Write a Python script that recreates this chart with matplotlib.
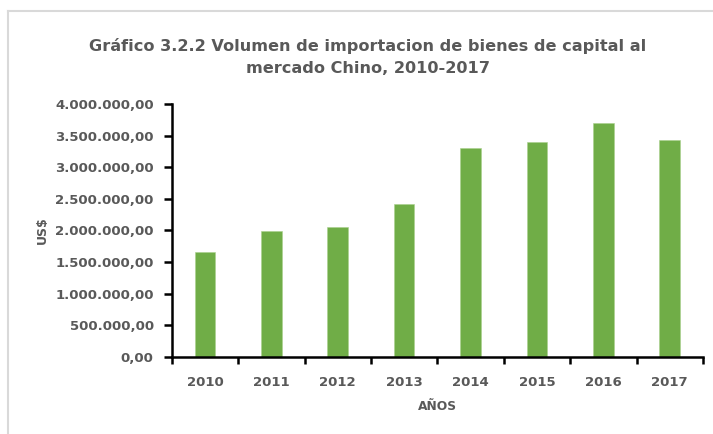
import matplotlib
matplotlib.use("Agg")
import matplotlib.pyplot as plt
from matplotlib.lines import Line2D
from matplotlib.ticker import FuncFormatter, FixedLocator

years = ["2010", "2011", "2012", "2013", "2014", "2015", "2016", "2017"]
values = [1658000, 1990000, 2047000, 2425000, 3310000, 3400000, 3705000, 3430000]
yticks = [0, 500000, 1000000, 1500000, 2000000, 2500000, 3000000, 3500000, 4000000]

title = "Gráfico 3.2.2 Volumen de importacion de bienes de capital al\nmercado Chino, 2010-2017"
xlabel = "AÑOS"
ylabel = "US$"

GRAY = "#595959"
GREEN = "#70AD47"
FONT = "DejaVu Sans"

W, H = 713, 434
fig = plt.figure(figsize=(W / 100, H / 100), dpi=100)
fig.patch.set_facecolor("white")

# chart frame (partial border as in reference)
fig.add_artist(Line2D([8 / W, 1.0], [1 - 10.5 / H, 1 - 10.5 / H], transform=fig.transFigure,
                      color="#d9d9d9", lw=1.5))
fig.add_artist(Line2D([8 / W, 8 / W], [1 - 10.5 / H, 0], transform=fig.transFigure,
                      color="#d9d9d9", lw=1.5))

left, right, top, bottom = 171.7, 703, 104, 356.7
ax = fig.add_axes([left / W, 1 - bottom / H, (right - left) / W, (bottom - top) / H])

x = list(range(len(years)))
ax.bar(x, values, width=0.31, color=GREEN, edgecolor="#a9d18e", linewidth=0.4, zorder=2)

ax.set_xlim(-0.5, len(years) - 0.5)
ax.set_ylim(0, 4000000)

for s in ["top", "right"]:
    ax.spines[s].set_visible(False)
for s in ["left", "bottom"]:
    ax.spines[s].set_color("black")
    ax.spines[s].set_linewidth(1.8)

def fmt(v, pos):
    s = f"{v:,.2f}"
    return s.replace(",", "X").replace(".", ",").replace("X", ".")

ax.yaxis.set_major_locator(FixedLocator(yticks))
ax.yaxis.set_major_formatter(FuncFormatter(fmt))
ax.tick_params(axis="y", direction="out", length=6, width=1.8, color="black",
               labelsize=9.5, labelcolor=GRAY, pad=7)

ax.set_xticks(x)
ax.set_xticklabels(years)
ax.set_xticks([i - 0.5 for i in range(len(years) + 1)], minor=True)
ax.tick_params(axis="x", which="major", length=0, labelsize=9.5, labelcolor=GRAY, pad=14)
ax.tick_params(axis="x", which="minor", direction="out", length=5, width=1.8, color="black")

for lab in ax.get_xticklabels() + ax.get_yticklabels():
    lab.set_fontfamily(FONT)
    lab.set_fontweight("bold")

fig.text(368 / W, 1 - 57 / H, title, ha="center", va="center", fontsize=11.6,
         fontweight="bold", color=GRAY, family=FONT, linespacing=1.6)
fig.text(437 / W, 1 - 407 / H, xlabel, ha="center", va="center", fontsize=8.8,
         fontweight="bold", color=GRAY, family=FONT)
fig.text(42 / W, 1 - 230 / H, ylabel, ha="center", va="center", fontsize=9,
         fontweight="bold", color=GRAY, family=FONT, rotation=90)

fig.savefig("out.png", dpi=100, facecolor="white")
